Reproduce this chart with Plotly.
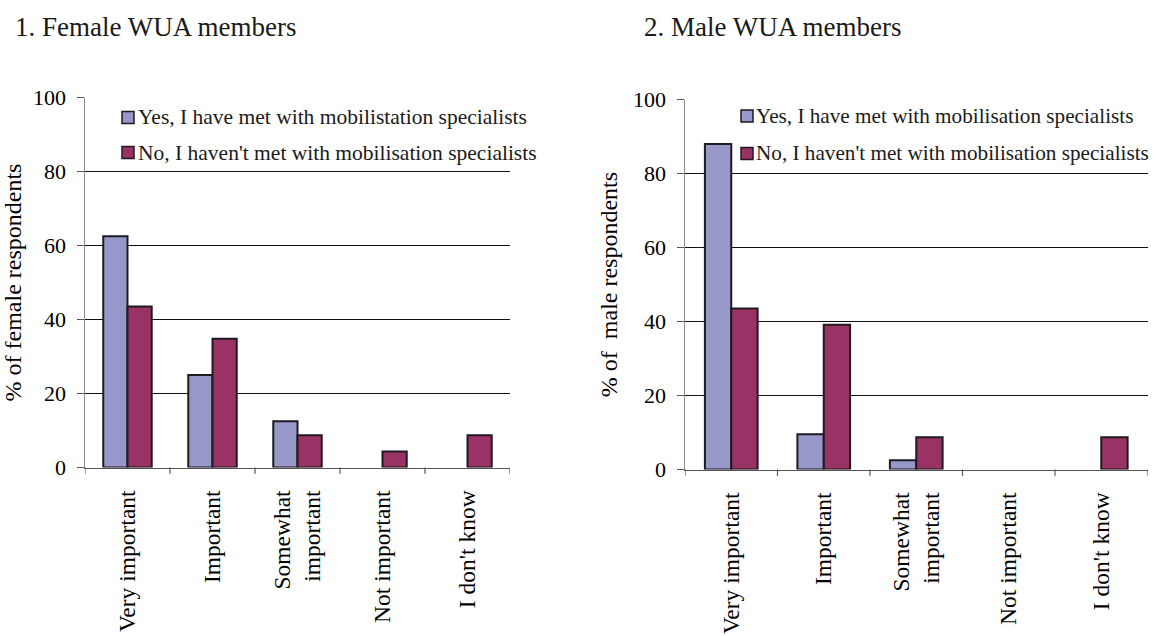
import plotly.graph_objects as go

categories = ["Very important", "Important", "Somewhat<br>important", "Not important", "I don't know"]

female_yes = [62.5, 25.0, 12.5, 0.0, 0.0]
female_no = [43.5, 34.8, 8.7, 4.3, 8.7]
male_yes = [88.0, 9.5, 2.5, 0.0, 0.0]
male_no = [43.5, 39.1, 8.7, 0.0, 8.7]

female_legend = ["Yes, I have met with mobilistation specialists",
                 "No, I haven't met with mobilisation specialists"]
male_legend = ["Yes, I have met with mobilisation specialists",
               "No, I haven't met with mobilisation specialists"]

panel_titles = ["1. Female WUA members", "2. Male WUA members"]
y_titles = ["% of female respondents", "% of\u00a0 male respondents"]
y_ticks = [0, 20, 40, 60, 80, 100]

YES_COLOR = "#9797CA"
NO_COLOR = "#993366"
EDGE = "#1f1a1f"
FONT = "Liberation Serif, Times New Roman, serif"

W, H = 1156, 636

fig = go.Figure()

def edge_widths(vals):
    return [2 if v > 0 else 0 for v in vals]

for yes, no, xa, ya in [(female_yes, female_no, "x", "y"), (male_yes, male_no, "x2", "y2")]:
    fig.add_trace(go.Bar(x=list(range(len(categories))), y=yes, xaxis=xa, yaxis=ya,
                         marker=dict(color=YES_COLOR, line=dict(color=EDGE, width=edge_widths(yes))),
                         showlegend=False, hoverinfo="y"))
    fig.add_trace(go.Bar(x=list(range(len(categories))), y=no, xaxis=xa, yaxis=ya,
                         marker=dict(color=NO_COLOR, line=dict(color=EDGE, width=edge_widths(no))),
                         showlegend=False, hoverinfo="y"))

def px_x(v):
    return v / W

def px_y(v):
    return 1 - v / H

xaxis_common = dict(
    type="linear", range=[-0.5, 4.5], automargin=False,
    tickmode="array", tickvals=list(range(len(categories))), ticktext=categories,
    tickangle=-90, showgrid=False, ticks="",
    showline=True, linecolor="#555555", linewidth=1.5,
    tickfont=dict(family=FONT, size=23.5, color="black"),
    ticklabelstandoff=12,
    zeroline=False, fixedrange=True,
)

yaxis_common = dict(
    range=[0, 100], tickmode="array", tickvals=y_ticks, automargin=False,
    showgrid=True, gridcolor="#111111", gridwidth=1,
    showline=True, linecolor="#8a8a8a", linewidth=1.5,
    ticks="outside", ticklen=7, tickcolor="#555555", tickwidth=1,
    tickfont=dict(family=FONT, size=22, color="black"),
    ticklabelstandoff=6,
    zeroline=False, fixedrange=True,
)

fig.update_layout(
    template="none",
    width=W, height=H,
    margin=dict(l=0, r=0, t=0, b=0, pad=0),
    paper_bgcolor="white", plot_bgcolor="white",
    barmode="group", bargap=0.43, bargroupgap=0,
    xaxis=dict(xaxis_common, domain=[px_x(85), px_x(510)], anchor="y"),
    yaxis=dict(yaxis_common, domain=[px_y(467.5), px_y(97.5)], anchor="x",
               title=dict(text=y_titles[0], font=dict(family=FONT, size=24, color="black"), standoff=8)),
    xaxis2=dict(xaxis_common, domain=[px_x(685), px_x(1147.5)], anchor="y2"),
    yaxis2=dict(yaxis_common, domain=[px_y(469.5), px_y(99.5)], anchor="x2",
                title=dict(text=y_titles[1], font=dict(family=FONT, size=24, color="black"), standoff=8)),
    font=dict(family=FONT, color="black"),
    showlegend=False,
)

# category boundary tick marks on x-axes (below baseline)
for xa, ya in [("x", "y"), ("x2", "y2")]:
    for b in range(len(categories) + 1):
        fig.add_shape(type="line", xref=xa, yref=ya + " domain",
                      x0=b - 0.5, x1=b - 0.5, y0=0, y1=-0.017,
                      line=dict(color="#555555", width=1.2))

# panel titles
fig.add_annotation(text=panel_titles[0], xref="paper", yref="paper",
                   x=px_x(13), y=px_y(27), xanchor="left", yanchor="middle",
                   showarrow=False, font=dict(family=FONT, size=27, color="#1a1a1a"))
fig.add_annotation(text=panel_titles[1], xref="paper", yref="paper",
                   x=px_x(642), y=px_y(27), xanchor="left", yanchor="middle",
                   showarrow=False, font=dict(family=FONT, size=27, color="#1a1a1a"))

# manual legends
def add_legend(labels, box_x, text_x, rows_y, size):
    for lbl, color, yc in zip(labels, [YES_COLOR, NO_COLOR], rows_y):
        fig.add_shape(type="rect", xref="paper", yref="paper",
                      x0=px_x(box_x), x1=px_x(box_x + 12),
                      y0=px_y(yc + 6), y1=px_y(yc - 6),
                      fillcolor=color, line=dict(color=EDGE, width=1.5))
        fig.add_annotation(text=lbl, xref="paper", yref="paper",
                           x=px_x(text_x), y=px_y(yc), xanchor="left", yanchor="middle",
                           showarrow=False, font=dict(family=FONT, size=size, color="#1a1a1a"))

add_legend(female_legend, 122, 136, [117.5, 152.5], 21.5)
add_legend(male_legend, 741, 754, [116, 153.5], 21.2)

fig.write_html("out.html",
               config={"displayModeBar": False, "staticPlot": True},
               post_script="document.body.style.margin='0px';document.body.style.overflow='hidden';")
